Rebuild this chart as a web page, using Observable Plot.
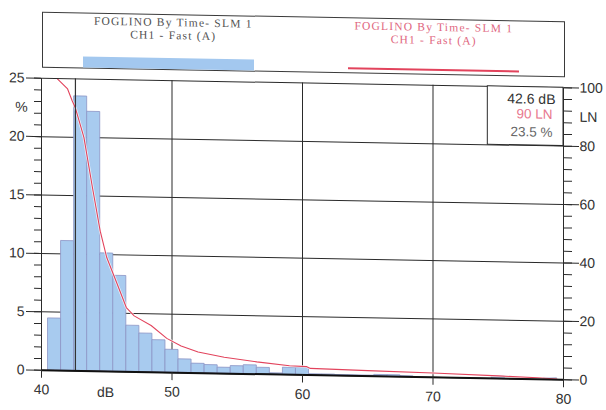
<!DOCTYPE html>
<html>
<head>
<meta charset="utf-8">
<script src="https://cdn.jsdelivr.net/npm/d3@7"></script>
<script src="https://cdn.jsdelivr.net/npm/@observablehq/plot@0.6"></script>
<style>
  html, body { margin: 0; padding: 0; background: #fff; }
  #page { position: relative; width: 606px; height: 410px; transform: skewY(1.04deg); transform-origin: 0 0; }
  .legend { position: absolute; left: 42px; top: 11px; width: 523px; height: 56px; border: 1px solid #3a3a3a; box-sizing: border-box;
            font-family: "Liberation Serif", "Times New Roman", serif; font-size: 11.5px; letter-spacing: 1.2px; }
  .entry { position: absolute; top: 1px; width: 50%; text-align: center; line-height: 13px; }
  .entry.left { left: 0; color: #505050; }
  .entry.right { left: 50%; color: #e0657e; }
  .swatch { position: absolute; left: 40px; top: 43px; width: 171px; height: 11px; background: #a3c8ef; }
  .redline { position: absolute; left: 305px; top: 49px; width: 171px; height: 1.5px; background: #e2435c; }
  #chart { position: absolute; left: 0; top: 70px; }
</style>
</head>
<body>
<div id="page">
  <div class="legend">
    <div class="entry left" id="legA"></div>
    <div class="entry right" id="legB"></div>
    <div class="swatch"></div>
    <div class="redline"></div>
  </div>
  <div id="chart"></div>
</div>
<script>
// Series title shown for both the histogram and the LN curve
const seriesName = ["FOGLINO By Time- SLM 1", "CH1 - Fast (A)"];

// Level distribution: 1 dB bins (bin centre, dB) and share of time in each bin (%)
const binCenters = [41, 42, 43, 44, 45, 46, 47, 48, 49, 50, 51, 52, 53, 54, 55, 56, 57, 58, 59, 60,
                    61, 62, 63, 64, 65, 66, 67, 68, 75, 79];
const binPercent = [4.45, 11.1, 23.5, 22.2, 10.1, 8.2, 3.95, 3.3, 2.75, 1.95, 1.15, 0.8, 0.7, 0.5, 0.65, 0.75, 0.55, 0.1, 0.6, 0.6,
                    0.08, 0.08, 0.05, 0.05, 0.05, 0.12, 0.12, 0.05, 0.2, 0.12];

// Cumulative exceedance curve: level (dB) and LN (% of time the level is exceeded)
const lnLevel = [41.0, 41.2, 42.0, 42.35, 42.6, 43.25, 43.9, 44.5, 45.0, 45.8, 46.5, 47.1, 48.4, 49.6, 50.7,
                 52.0, 54.0, 56.5, 59.0, 60.3, 60.6, 65.0, 70.0, 75.0, 78.0, 79.5];
const lnValue = [100, 100, 96.5, 92.5, 90, 80, 63, 48, 39, 30, 22, 19.2, 16, 11.7, 9.2,
                 7.2, 5.6, 4.2, 3.1, 2.9, 2.3, 1.9, 1.5, 0.9, 0.5, 0.2];

// Cursor readout
const cursorDb = 42.6;
const cursorLn = 90;
const cursorPct = 23.5;

// Axis ticks
const dbTicks = [40, 50, 60, 70, 80];
const pctTicks = [0, 5, 10, 15, 20, 25];
const lnTicks = [0, 20, 40, 60, 80, 100];
const gridDb = [50, 60, 70];
const gridPct = [5, 10, 15, 20];

document.getElementById("legA").innerHTML = seriesName.join("<br>");
document.getElementById("legB").innerHTML = seriesName.join("<br>");

const bins = binCenters.map((db, i) => ({db, pct: binPercent[i]}));
// LN shares the % axis: 100 LN sits at the 25 % line
const lnPerPct = lnTicks[lnTicks.length - 1] / pctTicks[pctTicks.length - 1];
const curve = lnLevel.map((db, i) => ({db, ln: lnValue[i]}));
const minorPct = d3.range(0, 26, 1);

const ink = "#2a2a2a";

const chart = Plot.plot({
  width: 606,
  height: 340,
  marginTop: 7,
  marginBottom: 41,
  marginLeft: 41,
  marginRight: 43,
  x: {domain: [40, 80], axis: null, label: null},
  y: {domain: [0, 25], axis: null, label: null},
  style: {fontFamily: "'Liberation Sans', Arial, sans-serif", fontSize: "14px", color: ink, background: "transparent"},
  marks: [
    // grid
    Plot.ruleY(gridPct, {stroke: ink, strokeWidth: 1}),
    Plot.ruleX(gridDb, {stroke: ink, strokeWidth: 1}),
    // histogram
    Plot.rectY(bins, {x1: d => d.db - 0.5, x2: d => d.db + 0.5, y: "pct",
      fill: "#a8cbef", stroke: "#8c95c6", strokeWidth: 0.8}),
    // LN curve with a light halo
    Plot.line(curve, {x: "db", y: d => d.ln / lnPerPct, stroke: "#ffffff", strokeWidth: 2.6, strokeOpacity: 0.75}),
    Plot.line(curve, {x: "db", y: d => d.ln / lnPerPct, stroke: "#e2435c", strokeWidth: 1.1}),
    // cursor
    Plot.ruleX([cursorDb], {stroke: "#333", strokeWidth: 1.2}),
    // frame and baseline
    Plot.frame({stroke: ink, strokeWidth: 1}),
    Plot.ruleY([0], {stroke: "#111", strokeWidth: 2}),
    // left axis (%)
    Plot.axisY(minorPct, {anchor: "left", tickSize: 7, tickFormat: () => "", stroke: ink}),
    Plot.axisY(pctTicks, {anchor: "left", tickSize: 15, tickPadding: 2, fontSize: 14, stroke: ink, fill: "#333"}),
    // right axis (LN)
    Plot.axisY(minorPct, {anchor: "right", tickSize: 8, tickFormat: () => "", stroke: ink}),
    Plot.axisY(lnTicks.map(v => v / lnPerPct), {anchor: "right", tickSize: 15, tickPadding: 1, fontSize: 14,
      tickFormat: d => String(Math.round(d * lnPerPct)), stroke: ink, fill: "#333"}),
    // bottom axis (dB)
    Plot.axisX(dbTicks, {anchor: "bottom", tickSize: 8, tickPadding: 6, fontSize: 14, stroke: ink, fill: "#333"}),
    // axis unit labels
    Plot.text(["%"], {frameAnchor: "left", y: 22.5, dx: -20, textAnchor: "middle", fontSize: 14, fill: "#333"}),
    Plot.text(["LN"], {frameAnchor: "right", y: 90 / lnPerPct, dx: 25, textAnchor: "middle", fontSize: 14, fill: "#333"}),
    Plot.text(["dB"], {frameAnchor: "bottom", x: 44.9, dy: 21, lineAnchor: "middle", textAnchor: "middle", fontSize: 14, fill: "#333"}),
    // cursor readout panel
    Plot.rect([0], {x1: 74.2, x2: 80, y1: 20, y2: 25, fill: "#fff", stroke: ink, strokeWidth: 1}),
    Plot.text([`${cursorDb} dB`], {frameAnchor: "top-right", dx: -8, dy: 12, lineAnchor: "middle", textAnchor: "end", fontSize: 14, fill: "#333"}),
    Plot.text([`${cursorLn} LN`], {frameAnchor: "top-right", dx: -11, dy: 27, lineAnchor: "middle", textAnchor: "end", fontSize: 13.5, fill: "#e8798f"}),
    Plot.text([`${cursorPct} %`], {frameAnchor: "top-right", dx: -11, dy: 45, lineAnchor: "middle", textAnchor: "end", fontSize: 13.5, fill: "#666"})
  ]
});
document.getElementById("chart").appendChild(chart);
</script>
</body>
</html>
